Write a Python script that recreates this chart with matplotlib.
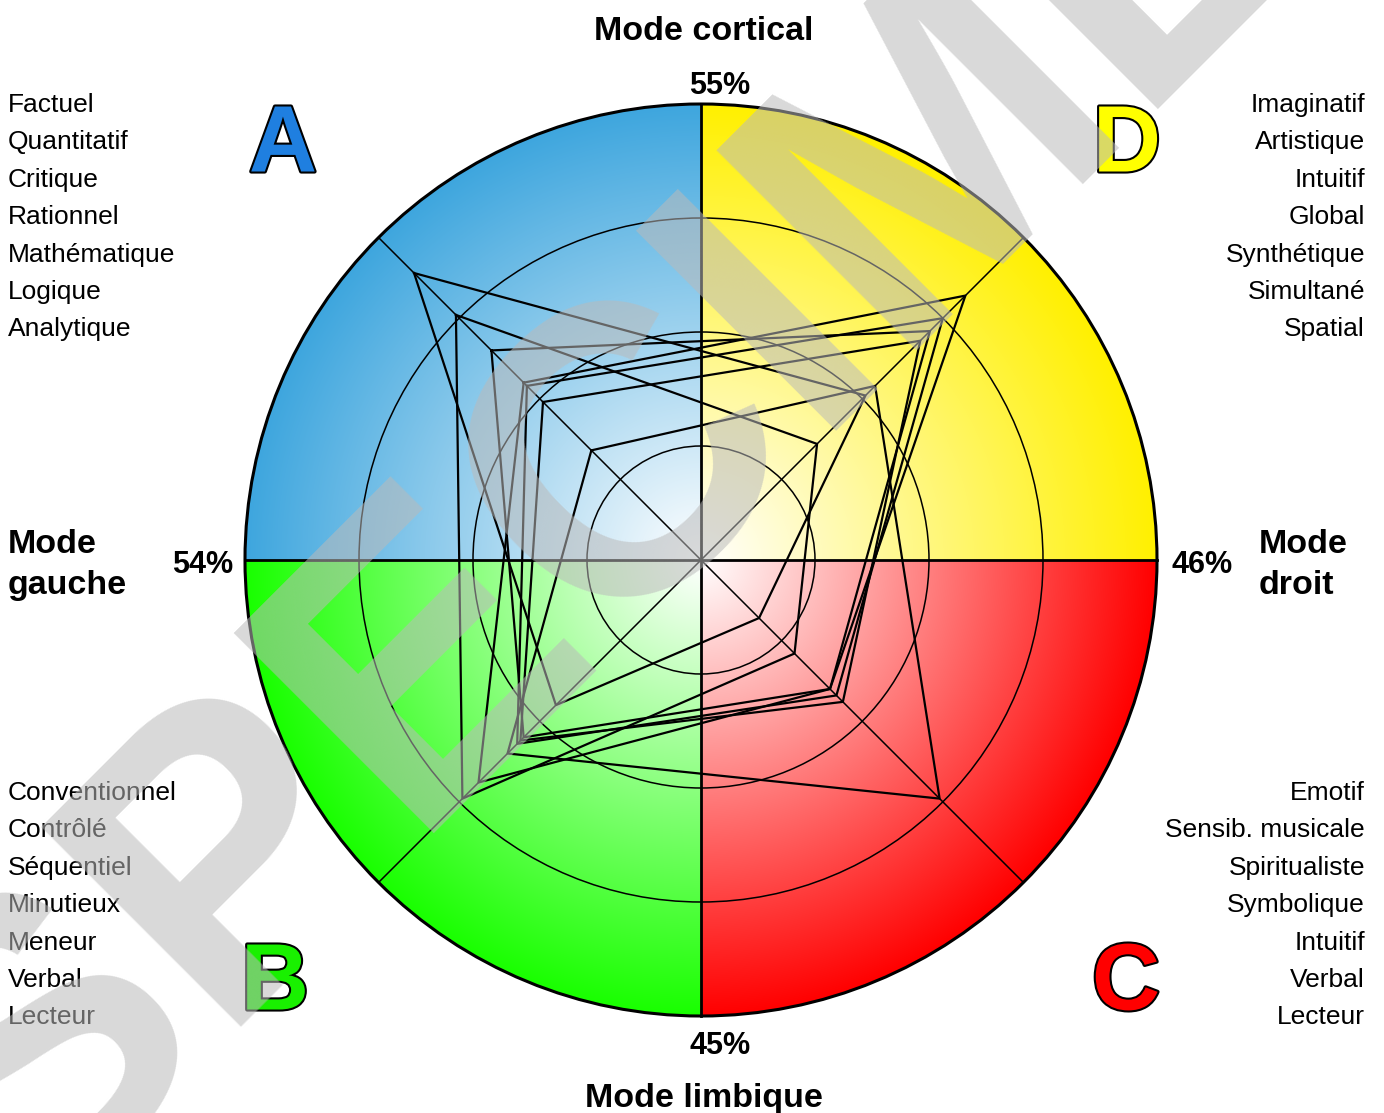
import numpy as np
import matplotlib.pyplot as plt
from matplotlib.patches import Circle
import matplotlib.patheffects as pe

plt.rcParams['font.family'] = ['Liberation Sans', 'DejaVu Sans']

# ==============================
# Data (profile scores, % of the outer radius)
# ==============================

scores_A = [89, 76, 34, 55, 54, 65, 49]   # upper left (cortical left)
scores_D = [51, 36, 54, 82, 75, 71, 68]   # upper right (cortical right)
scores_C = [18, 29, 74, 40, 42, 40, 44]   # lower right (limbic right)
scores_B = [45, 74, 60, 69, 57, 55, 56]   # lower left (limbic left)

words_A = ["Factuel", "Quantitatif", "Critique", "Rationnel",
           "Mathématique", "Logique", "Analytique"]
words_D = ["Imaginatif", "Artistique", "Intuitif", "Global",
           "Synthétique", "Simultané", "Spatial"]
words_B = ["Conventionnel", "Contrôlé", "Séquentiel", "Minutieux",
           "Meneur", "Verbal", "Lecteur"]
words_C = ["Emotif", "Sensib. musicale", "Spiritualiste", "Symbolique",
           "Intuitif", "Verbal", "Lecteur"]

pct_top, pct_bottom, pct_left, pct_right = "55%", "45%", "54%", "46%"

# ==============================
# Layout
# ==============================

W, H = 1384, 1113
cx, cy, R = 701, 560, 456

fig = plt.figure(figsize=(W / 100, H / 100), dpi=100)
ax = fig.add_axes([0, 0, 1, 1])
ax.set_xlim(0, W)
ax.set_ylim(H, 0)
ax.axis('off')

# quadrant gradients (white centre -> colour at the rim)
n = 600
xs = np.linspace(-1, 1, n)
X, Y = np.meshgrid(xs, xs)          # Y positive = downwards
t = np.clip(np.sqrt(X**2 + Y**2), 0, 1)[..., None]
blue = np.array([62, 166, 222]) / 255
yellow = np.array([255, 240, 0]) / 255
red = np.array([255, 0, 0]) / 255
green = np.array([25, 255, 0]) / 255
col = np.where((X < 0)[..., None] & (Y < 0)[..., None], blue,
      np.where((X >= 0)[..., None] & (Y < 0)[..., None], yellow,
      np.where((X >= 0)[..., None], red, green)))
img = (1 - t) + t * col
im = ax.imshow(img, extent=(cx - R, cx + R, cy + R, cy - R), origin='upper',
               interpolation='bilinear', zorder=1)
clip = Circle((cx, cy), R, transform=ax.transData)
im.set_clip_path(clip)

# grid circles
for f in [0.25, 0.5, 0.75]:
    ax.add_patch(Circle((cx, cy), f * R, fill=False, ec='black', lw=1.1, zorder=3))
ax.add_patch(Circle((cx, cy), R, fill=False, ec='black', lw=2.2, zorder=5))

# diagonals
for a in [45, 135, 225, 315]:
    ang = np.radians(a)
    ax.plot([cx, cx + R * np.cos(ang)], [cy, cy - R * np.sin(ang)],
            color='black', lw=1.1, zorder=3)
ax.plot([cx - R, cx + R], [cy, cy], color='black', lw=2.0, zorder=4)
ax.plot([cx, cx], [cy - R, cy + R], color='black', lw=2.0, zorder=4)

# profile polygons
angles = np.radians([135, 45, -45, -135])
for a_, d_, c_, b_ in zip(scores_A, scores_D, scores_C, scores_B):
    r = np.array([a_, d_, c_, b_, a_]) / 100 * R
    ang = np.append(angles, angles[0])
    ax.plot(cx + r * np.cos(ang), cy - r * np.sin(ang),
            color='black', lw=1.6, zorder=4)

# ==============================
# Texts
# ==============================

bold = dict(fontsize=24.5, fontweight='bold', color='black')
ax.text(704, 31, "Mode cortical", ha='center', va='center', **bold)
ax.text(704, 1098, "Mode limbique", ha='center', va='center', **bold)
ax.text(8, 565, "Mode\ngauche", ha='left', va='center', linespacing=1.45, **bold)
ax.text(1259, 565, "Mode\ndroit", ha='left', va='center', linespacing=1.45, **bold)

pct = dict(fontsize=22, fontweight='bold', color='black', ha='center', va='center')
ax.text(720, 86, pct_top, **pct)
ax.text(720, 1046, pct_bottom, **pct)
ax.text(203, 565, pct_left, **pct)
ax.text(1202, 565, pct_right, **pct)

step = 37.4
for i, w in enumerate(words_A):
    ax.text(8, 105 + i * step, w, fontsize=19, ha='left', va='center')
for i, w in enumerate(words_D):
    ax.text(1365, 105 + i * step, w, fontsize=19, ha='right', va='center')
for i, w in enumerate(words_B):
    ax.text(8, 793 + i * step, w, fontsize=19, ha='left', va='center')
for i, w in enumerate(words_C):
    ax.text(1365, 793 + i * step, w, fontsize=19, ha='right', va='center')

outline = [pe.withStroke(linewidth=3, foreground='black')]
big = dict(fontsize=68, fontweight='bold', ha='center', va='center',
           path_effects=outline)
ax.text(283, 147, "A", color='#1f7fe0', **big)
ax.text(1127, 147, "D", color='#ffff00', **big)
ax.text(275, 985, "B", color='#19f000', **big)
ax.text(1126, 985, "C", color='#ff0000', **big)

# watermark
ax.text(707, 398, "SPECIMEN", fontsize=295, fontweight='bold', color='#bababa',
        alpha=0.55, rotation=45, ha='center', va='center', zorder=10)

fig.savefig("out.png", dpi=100)
